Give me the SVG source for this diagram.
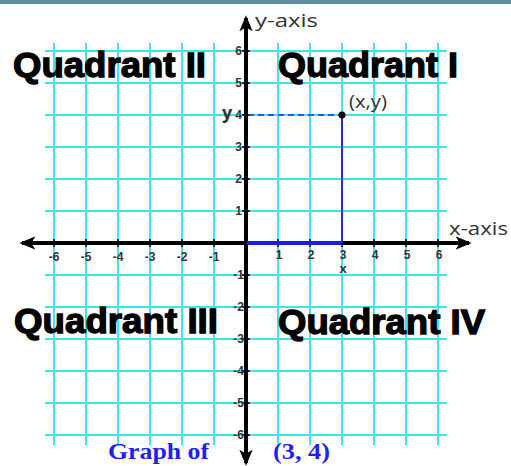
<svg xmlns="http://www.w3.org/2000/svg" width="511" height="466" viewBox="0 0 511 466">
<defs>
<style>
.grid{stroke:#3ee4f0;stroke-width:2;fill:none}
.axis{stroke:#000;stroke-width:4;fill:none}
.tick{stroke:#000;stroke-width:1.5}
.quad{font-family:"Liberation Sans",Arial,sans-serif;font-weight:bold;font-size:35px;fill:#000;stroke:#000;stroke-width:1.3}
.ax{font-family:"Open Sans","Liberation Sans",sans-serif;font-size:18px;fill:#333}
.num{font-family:"Liberation Sans",Arial,sans-serif;font-weight:bold;font-size:12px;fill:#333}
.cap{font-family:"Liberation Serif","Times New Roman",serif;font-weight:bold;font-size:24px;fill:#1f1fef}
</style>
<marker id="arr" viewBox="0 0 12 10" refX="10" refY="5" markerWidth="4" markerHeight="3.4" orient="auto" markerUnits="strokeWidth">
<path d="M0,0 L12,5 L0,10 L3,5 z" fill="#000"/>
</marker>
</defs>
<rect x="0" y="0" width="511" height="4" fill="#5f8ba5"/>
<g id="grid">
<path class="grid" d="M54,43V445M86,43V445M118,43V445M150,43V445M182,43V445M214,43V445M278,43V445M310,43V445M342,43V445M374,43V445M406,43V445M438,43V445
M45,51H447M45,83H447M45,115H447M45,147H447M45,179H447M45,211H447M45,275H447M45,307H447M45,339H447M45,371H447M45,403H447M45,435H447"/>
</g>
<g id="connectors">
<path class="axis" d="M246,243V18" marker-end="url(#arr)"/>
<path class="axis" d="M246,243V463" marker-end="url(#arr)"/>
<path class="axis" d="M246,243H22" marker-end="url(#arr)"/>
<path class="axis" d="M246,243H469" marker-end="url(#arr)"/>
<path class="tick" d="M54,239V247M86,239V247M118,239V247M150,239V247M182,239V247M214,239V247M278,239V247M310,239V247M342,239V247M374,239V247M406,239V247M438,239V247
M242,51H250M242,83H250M242,115H250M242,147H250M242,179H250M242,211H250M242,275H250M242,307H250M242,339H250M242,371H250M242,403H250M242,435H250"/>
<line x1="248" y1="115" x2="342" y2="115" stroke="#2020d8" stroke-width="1.5" stroke-dasharray="6,4"/>
<line x1="342" y1="115" x2="342" y2="243" stroke="#2a2ae0" stroke-width="2"/>
<line x1="247" y1="243" x2="342" y2="243" stroke="#1c1ce0" stroke-width="4"/>
<circle cx="342" cy="115" r="3.5" fill="#000"/>
</g>
<g id="labels">
<text class="quad" x="13" y="77" textLength="193" lengthAdjust="spacingAndGlyphs">Quadrant II</text>
<text class="quad" x="278" y="77" textLength="180" lengthAdjust="spacingAndGlyphs">Quadrant I</text>
<text class="quad" x="14" y="333" textLength="204" lengthAdjust="spacingAndGlyphs">Quadrant III</text>
<text class="quad" x="278" y="334" textLength="207" lengthAdjust="spacingAndGlyphs">Quadrant IV</text>
<text class="ax" x="255" y="27" textLength="63" lengthAdjust="spacingAndGlyphs">y-axis</text>
<text class="ax" x="449" y="235" textLength="59" lengthAdjust="spacingAndGlyphs">x-axis</text>
<text class="ax" x="349" y="108" font-size="16" textLength="38" lengthAdjust="spacingAndGlyphs">(x,y)</text>
<g class="num" text-anchor="middle">
<text x="54" y="261">-6</text><text x="86" y="261">-5</text><text x="118" y="261">-4</text><text x="150" y="261">-3</text><text x="182" y="261">-2</text><text x="214" y="261">-1</text>
<text x="279" y="259">1</text><text x="311" y="259">2</text><text x="343" y="259">3</text><text x="375" y="259">4</text><text x="407" y="259">5</text><text x="439" y="259">6</text>
<text x="343" y="273" font-size="13">x</text>
</g>
<g class="num" text-anchor="end">
<text x="242" y="55">6</text><text x="242" y="87">5</text><text x="242" y="119">4</text><text x="242" y="151">3</text><text x="242" y="183">2</text><text x="242" y="215">1</text>
<text x="244" y="279">-1</text><text x="244" y="311">-2</text><text x="244" y="343">-3</text><text x="244" y="375">-4</text><text x="244" y="407">-5</text><text x="244" y="439">-6</text>
</g>
<text class="ax" x="222" y="119" font-size="17" font-weight="bold">y</text>
<text class="cap" x="108" y="459" textLength="101" lengthAdjust="spacingAndGlyphs">Graph of</text>
<text class="cap" x="273" y="459" textLength="57" lengthAdjust="spacingAndGlyphs">(3, 4)</text>
</g>
</svg>
